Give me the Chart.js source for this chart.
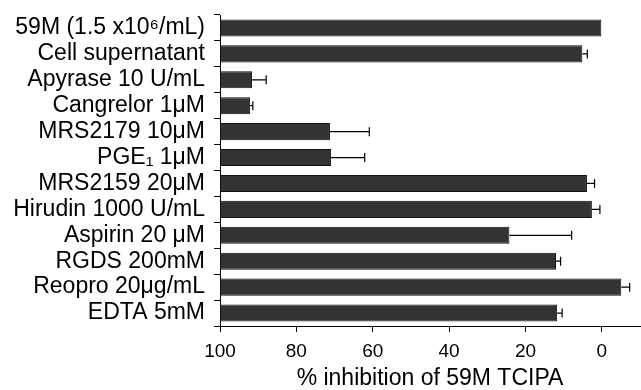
<!DOCTYPE html>
<html>
<head>
    <meta charset="UTF-8">
    <title>59M TCIPA inhibition</title>
    <script src="https://cdn.jsdelivr.net/npm/chart.js"></script>
</head>
<style>
    body { margin: 0; background: #fff; }
    #box { width: 641px; height: 390px; position: relative; }
</style>
<body>
    <div id="box">
        <canvas id="myChart" width="641" height="390"></canvas>
    </div>
<script>
    // treatments, top to bottom
    const categories = [
        '59M (1.5 x10\u2076/mL)',
        'Cell supernatant',
        'Apyrase 10 U/mL',
        'Cangrelor 1\u03bcM',
        'MRS2179 10\u03bcM',
        'PGE\u2081 1\u03bcM',
        'MRS2159 20\u03bcM',
        'Hirudin 1000 U/mL',
        'Aspirin 20 \u03bcM',
        'RGDS 200mM',
        'Reopro 20\u03bcg/mL',
        'EDTA 5mM'
    ];
    // % inhibition (bar ends) and error (SEM, drawn toward 0)
    const inhibition = [0, 5.1, 91.6, 92.1, 71.2, 70.9, 3.9, 2.6, 24.2, 12.0, -5.1, 11.7];
    const errors = [0, 1.3, 3.7, 0.7, 10.3, 8.8, 2.0, 2.1, 16.3, 1.2, 2.2, 1.3];
    const xTicks = [100, 80, 60, 40, 20, 0];

    const FONT = 'Liberation Sans, Arial, Helvetica, sans-serif';

    const errorBarPlugin = {
        id: 'errorBars',
        afterDatasetsDraw(chart) {
            const ctx = chart.ctx;
            const xs = chart.scales.x;
            const meta = chart.getDatasetMeta(0);
            ctx.save();
            ctx.strokeStyle = '#000';
            ctx.lineWidth = 1.2;
            meta.data.forEach((bar, i) => {
                if (!errors[i]) return;
                const x0 = xs.getPixelForValue(inhibition[i]);
                const x1 = xs.getPixelForValue(inhibition[i] - errors[i]);
                const y = bar.y;
                ctx.beginPath();
                ctx.moveTo(x0, y);
                ctx.lineTo(x1, y);
                ctx.moveTo(x1, y - 4.5);
                ctx.lineTo(x1, y + 4.5);
                ctx.stroke();
            });
            ctx.restore();
        }
    };

    const chartCanvas = document.getElementById('myChart');

    new Chart(chartCanvas, {
        type: 'bar',
        data: {
            labels: categories,
            datasets: [{
                data: inhibition.map(v => [100, v]),
                backgroundColor: '#333333',
                borderColor: '#111111',
                borderWidth: 1,
                borderSkipped: false,
                categoryPercentage: 1,
                barPercentage: 0.66
            }]
        },
        options: {
            indexAxis: 'y',
            responsive: false,
            animation: false,
            layout: { padding: { top: 15, right: 1, left: 0, bottom: 0 } },
            scales: {
                x: {
                    reverse: true,
                    min: -10,
                    max: 100,
                    afterBuildTicks: (scale) => {
                        scale.ticks = xTicks.map(v => ({ value: v }));
                    },
                    afterFit: (scale) => {
                        scale.height = 64;
                        scale.paddingLeft = 0;
                        scale.paddingRight = 0;
                    },
                    grid: {
                        drawOnChartArea: false,
                        tickLength: 6,
                        color: '#000'
                    },
                    border: { color: '#000', width: 1 },
                    ticks: {
                        color: '#000',
                        autoSkip: false,
                        font: { family: FONT, size: 19 },
                        padding: 8,
                        maxRotation: 0
                    },
                    title: {
                        display: true,
                        text: '% inhibition of 59M TCIPA',
                        color: '#000',
                        font: { family: FONT, size: 23 },
                        padding: { top: 0, bottom: -2 }
                    }
                },
                y: {
                    afterFit: (scale) => {
                        scale.width = 220;
                        scale.paddingTop = 0;
                        scale.paddingBottom = 0;
                    },
                    grid: {
                        drawOnChartArea: false,
                        tickLength: 6,
                        color: '#000'
                    },
                    border: { color: '#000', width: 1 },
                    ticks: {
                        color: '#000',
                        autoSkip: false,
                        font: { family: FONT, size: 23 },
                        padding: 9
                    }
                }
            },
            plugins: {
                legend: { display: false },
                tooltip: { enabled: false }
            }
        },
        plugins: [errorBarPlugin]
    });
</script>
</body>
</html>
